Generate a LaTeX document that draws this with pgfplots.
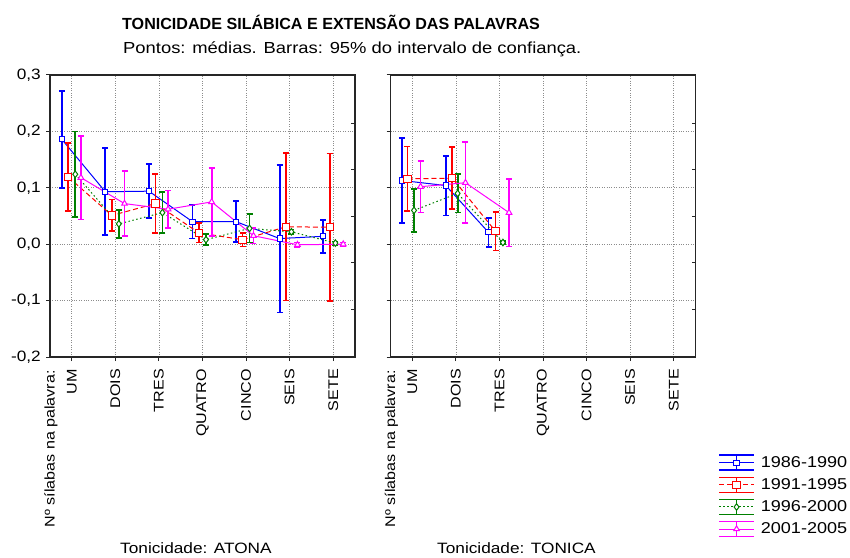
\documentclass[border=0pt]{standalone}
\usepackage{pgfplots}
\pgfplotsset{compat=1.18}
\usepackage{fontspec}
\setmainfont{Liberation Sans}[FakeStretch=1.15]
\newfontfamily\titlefont{Liberation Sans}
\definecolor{cblue}{RGB}{0,0,255}
\definecolor{cred}{RGB}{255,0,0}
\definecolor{cgreen}{RGB}{0,128,0}
\definecolor{cmag}{RGB}{255,0,255}

\pgfplotstableread{
x y e
0.77 0.186 0.086
1.77 0.093 0.077
2.77 0.094 0.048
3.77 0.040 0.030
4.77 0.040 0.036
5.77 0.010 0.131
6.77 0.014 0.029
}\LBlue
\pgfplotstableread{
x y e
0.92 0.119 0.060
1.92 0.051 0.028
2.92 0.072 0.052
3.92 0.020 0.017
4.92 0.008 0.012
5.92 0.031 0.131
6.92 0.030 0.131
}\LRed
\pgfplotstableread{
x y e
1.08 0.124 0.076
2.08 0.036 0.025
3.08 0.056 0.036
4.08 0.008 0.010
5.08 0.028 0.025
6.04 0.022 0.004
7.05 0.002 0.003
}\LGreen
\pgfplotstableread{
x y e
1.21 0.118 0.074
2.21 0.072 0.058
3.21 0.062 0.033
4.21 0.075 0.060
5.17 0.015 0.014
6.18 -0.001 0.004
7.23 0.000 0.003
}\LMag
\pgfplotstableread{
x y e
0.76 0.113 0.075
1.77 0.104 0.053
2.75 0.021 0.026
}\RBlue
\pgfplotstableread{
x y e
0.89 0.116 0.057
1.92 0.117 0.055
2.91 0.023 0.034
}\RRed
\pgfplotstableread{
x y e
1.04 0.060 0.038
2.04 0.090 0.034
3.08 0.003 0.003
}\RGreen
\pgfplotstableread{
x y e
1.19 0.102 0.046
2.22 0.109 0.072
3.22 0.056 0.060
}\RMag

\pgfplotsset{
  panel/.style={
    scale only axis, width=305pt, height=282pt,
    xmin=0.5, xmax=7.5, ymin=-0.2, ymax=0.3,
    clip=false,
    xtick={1,2,3,4,5,6,7},
    xticklabels={UM,DOIS,TRES,QUATRO,CINCO,SEIS,SETE},
    ytick={-0.2,-0.1,0,0.1,0.2,0.3},
    grid=major,
    major grid style={dotted, black!45, line width=0.7pt},
    axis line style={line width=1.4pt, black!85},
    tick style={black!85, line width=1pt},
    tick align=outside, major tick length=4pt,
    xtick pos=left, ytick pos=left,
    xticklabel style={rotate=90, anchor=east, inner sep=0pt, xshift=-8pt,
      font=\fontsize{14}{14}\selectfont},
    yticklabel style={inner sep=0pt, xshift=-5pt, font=\fontsize{15}{15}\selectfont},
  },
  ser/.style={line width=1pt,
    mark options={solid, fill=white, line width=1pt},
    error bars/y dir=both, error bars/y explicit,
    error bars/error bar style={solid, line width=1.8pt},
    error bars/error mark options={rotate=90, solid, line width=1.7pt, mark size=3pt}},
  lg/.style={legend image code/.code={
    \draw[solid, line width=1.6pt] (0pt,7.5pt) -- (35pt,7.5pt)
      (0pt,-7.5pt) -- (35pt,-7.5pt) (17.5pt,-7.5pt) -- (17.5pt,7.5pt);
    \draw[mark repeat=2, mark phase=2] plot coordinates {(0pt,0pt) (17.5pt,0pt) (35pt,0pt)};
  }},
  sblue/.style={color=cblue, solid, mark=square*, mark size=2.6pt},
  sred/.style={color=cred, dash pattern=on 5pt off 3pt, mark=square*, mark size=3.6pt},
  sgreen/.style={color=cgreen, dash pattern=on 1.5pt off 2.5pt, mark=diamond*, mark size=3.3pt},
  smag/.style={color=cmag, solid, mark=triangle*, mark size=3.3pt},
}

\begin{document}
\begin{tikzpicture}
\path[use as bounding box] (0pt,0pt) rectangle (850pt,557pt);

\node[anchor=base west, inner sep=0pt, font=\titlefont\bfseries\fontsize{16.1}{16}\selectfont]
  at (122pt,527.7pt) {TONICIDADE SILÁBICA E EXTENSÃO DAS PALAVRAS};
\node[anchor=base west, inner sep=0pt, font=\fontsize{16}{16}\selectfont]
  at (123pt,503.7pt) {Pontos: médias. Barras: 95\% do intervalo de confiança.};

\node[anchor=base west, inner sep=0pt, font=\fontsize{15}{15}\selectfont]
  at (120pt,3.7pt) {Tonicidade: ATONA};
\node[anchor=base west, inner sep=0pt, font=\fontsize{15}{15}\selectfont]
  at (437pt,3.7pt) {Tonicidade: TONICA};

% left panel
\begin{axis}[panel, at={(50pt,200pt)}, anchor=south west,
  yticklabels={{-0,2},{-0,1},{0,0},{0,1},{0,2},{0,3}}]
\addplot[ser, sblue] table[x=x, y=y, y error=e] {\LBlue};
\addplot[ser, sred] table[x=x, y=y, y error=e] {\LRed};
\addplot[ser, sgreen] table[x=x, y=y, y error=e] {\LGreen};
\addplot[ser, smag] table[x=x, y=y, y error=e] {\LMag};
\pgfplotsinvokeforeach{0.214,0.132,0.049,-0.033,-0.116}{
  \draw[black!85, line width=1pt] (axis cs:7.5,#1) -- ++(-4pt,0pt);}
\node[anchor=east, rotate=90, xshift=-13pt, inner sep=0pt, font=\fontsize{14}{14}\selectfont]
  at (axis cs:0.52,-0.2) {Nº sílabas na palavra:};
\end{axis}

% right panel
\begin{axis}[panel, at={(390.5pt,200pt)}, anchor=south west,
  yticklabels={},
  legend style={at={(1.074,-0.345)}, anchor=north west, draw=none, fill=none,
    inner sep=0pt, row sep=5.5pt, font=\fontsize{15.7}{15.7}\selectfont,
    cells={anchor=west},
    /tikz/every odd column/.append style={column sep=4pt}}]
\addplot[ser, sblue, lg] table[x=x, y=y, y error=e] {\RBlue};
\addlegendentry{1986-1990}
\addplot[ser, sred, lg] table[x=x, y=y, y error=e] {\RRed};
\addlegendentry{1991-1995}
\addplot[ser, sgreen, lg] table[x=x, y=y, y error=e] {\RGreen};
\addlegendentry{1996-2000}
\addplot[ser, smag, lg] table[x=x, y=y, y error=e] {\RMag};
\addlegendentry{2001-2005}
\pgfplotsinvokeforeach{0.214,0.132,0.049,-0.033,-0.116}{
  \draw[black!85, line width=1pt] (axis cs:7.5,#1) -- ++(-4pt,0pt);}
\node[anchor=east, rotate=90, xshift=-13pt, inner sep=0pt, font=\fontsize{14}{14}\selectfont]
  at (axis cs:0.52,-0.2) {Nº sílabas na palavra:};
\end{axis}
\end{tikzpicture}
\end{document}
